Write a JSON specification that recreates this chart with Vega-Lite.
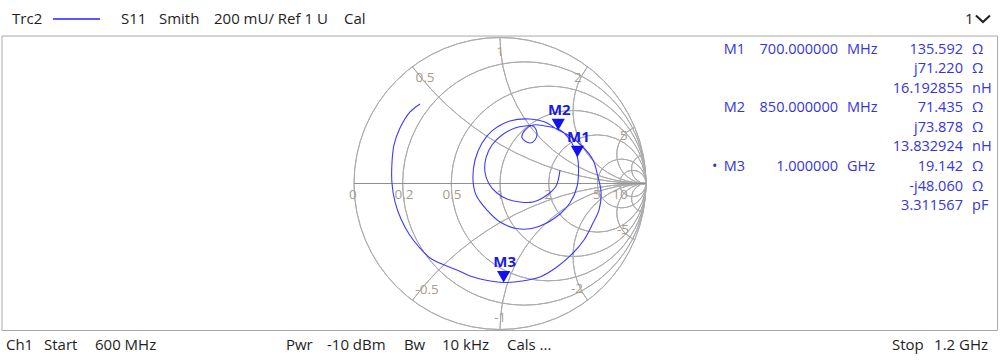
{
  "$schema": "https://vega.github.io/schema/vega-lite/v6.json",
  "width": 1000,
  "height": 361,
  "autosize": {"type": "fit", "contains": "padding"},
  "padding": 0,
  "background": "white",
  "config": {"view": {"stroke": null}, "text": {"font": "Open Sans"}},
  "datasets": {
    "frame": [{"x1": -3.411, "x2": 3.408, "y1": 1.01, "y2": -1.007}],
    "grid": [
      {"kind": "r0", "cx": 0, "cy": 0, "rad": 1, "t0": 0, "t1": 6.2832},
      {"kind": "r0.2", "cx": 0.1667, "cy": 0, "rad": 0.8333, "t0": 0, "t1": 6.2832},
      {"kind": "r0.5", "cx": 0.3333, "cy": 0, "rad": 0.6667, "t0": 0, "t1": 6.2832},
      {"kind": "r1", "cx": 0.5, "cy": 0, "rad": 0.5, "t0": 0, "t1": 6.2832},
      {"kind": "r2", "cx": 0.6667, "cy": 0, "rad": 0.3333, "t0": 0, "t1": 6.2832},
      {"kind": "r5", "cx": 0.8333, "cy": 0, "rad": 0.1667, "t0": 0, "t1": 6.2832},
      {"kind": "r10", "cx": 0.9091, "cy": 0, "rad": 0.0909, "t0": 0, "t1": 6.2832},
      {"kind": "x0.5", "cx": 1, "cy": 2, "rad": 2, "t0": 3.1416, "t1": 4.0689},
      {"kind": "x1", "cx": 1, "cy": 1, "rad": 1, "t0": 3.1416, "t1": 4.7124},
      {"kind": "x2", "cx": 1, "cy": 0.5, "rad": 0.5, "t0": 3.1416, "t1": 5.3559},
      {"kind": "x5", "cx": 1, "cy": 0.2, "rad": 0.2, "t0": 3.1416, "t1": 5.8884},
      {"kind": "x10", "cx": 1, "cy": 0.1, "rad": 0.1, "t0": 3.1416, "t1": 6.0837},
      {"kind": "x-0.5", "cx": 1, "cy": -2, "rad": 2, "t0": 5.3559, "t1": 6.2832},
      {"kind": "x-1", "cx": 1, "cy": -1, "rad": 1, "t0": 4.7124, "t1": 6.2832},
      {"kind": "x-2", "cx": 1, "cy": -0.5, "rad": 0.5, "t0": 4.0689, "t1": 6.2832},
      {"kind": "x-5", "cx": 1, "cy": -0.2, "rad": 0.2, "t0": 3.5364, "t1": 6.2832},
      {"kind": "x-10", "cx": 1, "cy": -0.1, "rad": 0.1, "t0": 3.3411, "t1": 6.2832}
    ],
    "axisline": [{"x1": -1, "x2": 1, "y": 0}],
    "glabels": [
      {"t": "0.5", "gx": -0.514, "gy": 0.723},
      {"t": "1", "gx": 0, "gy": 0.901},
      {"t": "2", "gx": 0.534, "gy": 0.723},
      {"t": "5", "gx": 0.849, "gy": 0.325},
      {"t": "-0.5", "gx": -0.5, "gy": -0.729},
      {"t": "-1", "gx": 0, "gy": -0.921},
      {"t": "-2", "gx": 0.527, "gy": -0.723},
      {"t": "-5", "gx": 0.842, "gy": -0.318},
      {"t": "0", "gx": -1.007, "gy": -0.079},
      {"t": "0.2", "gx": -0.658, "gy": -0.079},
      {"t": "0.5", "gx": -0.329, "gy": -0.079},
      {"t": "1", "gx": 0, "gy": -0.079},
      {"t": "2", "gx": 0.329, "gy": -0.079},
      {"t": "5", "gx": 0.664, "gy": -0.079},
      {"t": "10", "gx": 0.822, "gy": -0.079}
    ],
    "trace": [
      {"i": 1, "gr": 0.411, "gi": 0.092},
      {"i": 2, "gr": 0.384, "gi": -0.017},
      {"i": 3, "gr": 0.322, "gi": -0.079},
      {"i": 4, "gr": 0.226, "gi": -0.127},
      {"i": 5, "gr": 0.137, "gi": -0.127},
      {"i": 6, "gr": 0.048, "gi": -0.106},
      {"i": 7, "gr": -0.021, "gi": -0.065},
      {"i": 8, "gr": -0.075, "gi": -0.003},
      {"i": 9, "gr": -0.103, "gi": 0.079},
      {"i": 10, "gr": -0.096, "gi": 0.175},
      {"i": 11, "gr": -0.055, "gi": 0.264},
      {"i": 12, "gr": 0.014, "gi": 0.332},
      {"i": 13, "gr": 0.103, "gi": 0.38},
      {"i": 14, "gr": 0.171, "gi": 0.394},
      {"i": 15, "gr": 0.226, "gi": 0.394},
      {"i": 16, "gr": 0.253, "gi": 0.346},
      {"i": 17, "gr": 0.24, "gi": 0.298},
      {"i": 18, "gr": 0.205, "gi": 0.277},
      {"i": 19, "gr": 0.151, "gi": 0.312},
      {"i": 20, "gr": 0.171, "gi": 0.366},
      {"i": 21, "gr": 0.226, "gi": 0.401},
      {"i": 22, "gr": 0.308, "gi": 0.394},
      {"i": 23, "gr": 0.411, "gi": 0.366},
      {"i": 24, "gr": 0.479, "gi": 0.298},
      {"i": 25, "gr": 0.53, "gi": 0.18},
      {"i": 26, "gr": 0.538, "gi": 0.092},
      {"i": 27, "gr": 0.527, "gi": -0.024},
      {"i": 28, "gr": 0.479, "gi": -0.134},
      {"i": 29, "gr": 0.411, "gi": -0.209},
      {"i": 30, "gr": 0.274, "gi": -0.291},
      {"i": 31, "gr": 0.137, "gi": -0.312},
      {"i": 32, "gr": 0.0, "gi": -0.264},
      {"i": 33, "gr": -0.089, "gi": -0.182},
      {"i": 34, "gr": -0.164, "gi": -0.079},
      {"i": 35, "gr": -0.185, "gi": 0.024},
      {"i": 36, "gr": -0.171, "gi": 0.161},
      {"i": 37, "gr": -0.123, "gi": 0.277},
      {"i": 38, "gr": -0.055, "gi": 0.36},
      {"i": 39, "gr": 0.068, "gi": 0.428},
      {"i": 40, "gr": 0.205, "gi": 0.442},
      {"i": 41, "gr": 0.308, "gi": 0.421},
      {"i": 42, "gr": 0.399, "gi": 0.366},
      {"i": 43, "gr": 0.479, "gi": 0.325},
      {"i": 44, "gr": 0.568, "gi": 0.25},
      {"i": 45, "gr": 0.637, "gi": 0.161},
      {"i": 46, "gr": 0.671, "gi": 0.045},
      {"i": 47, "gr": 0.692, "gi": -0.058},
      {"i": 48, "gr": 0.678, "gi": -0.182},
      {"i": 49, "gr": 0.637, "gi": -0.271},
      {"i": 50, "gr": 0.575, "gi": -0.387},
      {"i": 51, "gr": 0.5, "gi": -0.476},
      {"i": 52, "gr": 0.39, "gi": -0.572},
      {"i": 53, "gr": 0.274, "gi": -0.64},
      {"i": 54, "gr": 0.151, "gi": -0.668},
      {"i": 55, "gr": 0.025, "gi": -0.678},
      {"i": 56, "gr": -0.103, "gi": -0.661},
      {"i": 57, "gr": -0.205, "gi": -0.634},
      {"i": 58, "gr": -0.295, "gi": -0.592},
      {"i": 59, "gr": -0.39, "gi": -0.555},
      {"i": 60, "gr": -0.479, "gi": -0.51},
      {"i": 61, "gr": -0.555, "gi": -0.435},
      {"i": 62, "gr": -0.623, "gi": -0.346},
      {"i": 63, "gr": -0.678, "gi": -0.243},
      {"i": 64, "gr": -0.719, "gi": -0.127},
      {"i": 65, "gr": -0.74, "gi": 0.003},
      {"i": 66, "gr": -0.74, "gi": 0.14},
      {"i": 67, "gr": -0.726, "gi": 0.264},
      {"i": 68, "gr": -0.685, "gi": 0.38},
      {"i": 69, "gr": -0.616, "gi": 0.49},
      {"i": 70, "gr": -0.548, "gi": 0.545}
    ],
    "markers": [
      {"m": "M1", "gr": 0.5303, "gi": 0.1802},
      {"m": "M2", "gr": 0.399, "gi": 0.3657},
      {"m": "M3", "gr": 0.0249, "gi": -0.6778}
    ],
    "tableRight": [
      {"t": "M1", "gx": 1.678, "gy": 0.914},
      {"t": "700.000000", "gx": 2.315, "gy": 0.914},
      {"t": "135.592", "gx": 3.171, "gy": 0.914},
      {"t": "j71.220", "gx": 3.171, "gy": 0.781},
      {"t": "16.192855", "gx": 3.171, "gy": 0.647},
      {"t": "M2", "gx": 1.678, "gy": 0.514},
      {"t": "850.000000", "gx": 2.315, "gy": 0.514},
      {"t": "71.435", "gx": 3.171, "gy": 0.514},
      {"t": "j73.878", "gx": 3.171, "gy": 0.38},
      {"t": "13.832924", "gx": 3.171, "gy": 0.247},
      {"t": "M3", "gx": 1.678, "gy": 0.113},
      {"t": "1.000000", "gx": 2.315, "gy": 0.113},
      {"t": "19.142", "gx": 3.171, "gy": 0.113},
      {"t": "-j48.060", "gx": 3.171, "gy": -0.021},
      {"t": "3.311567", "gx": 3.171, "gy": -0.154}
    ],
    "tableLeft": [
      {"t": "MHz", "gx": 2.377, "gy": 0.914},
      {"t": "Ω", "gx": 3.233, "gy": 0.914},
      {"t": "Ω", "gx": 3.233, "gy": 0.781},
      {"t": "nH", "gx": 3.233, "gy": 0.647},
      {"t": "MHz", "gx": 2.377, "gy": 0.514},
      {"t": "Ω", "gx": 3.233, "gy": 0.514},
      {"t": "Ω", "gx": 3.233, "gy": 0.38},
      {"t": "nH", "gx": 3.233, "gy": 0.247},
      {"t": "•", "gx": 1.452, "gy": 0.113},
      {"t": "GHz", "gx": 2.377, "gy": 0.113},
      {"t": "Ω", "gx": 3.233, "gy": 0.113},
      {"t": "Ω", "gx": 3.233, "gy": -0.021},
      {"t": "pF", "gx": 3.233, "gy": -0.154}
    ],
    "chrome": [
      {"t": "Trc2", "gx": -3.342, "gy": 1.1267},
      {"t": "S11", "gx": -2.596, "gy": 1.1267},
      {"t": "Smith", "gx": -2.336, "gy": 1.1267},
      {"t": "200 mU/ Ref 1 U", "gx": -1.959, "gy": 1.1267},
      {"t": "Cal", "gx": -1.068, "gy": 1.1267},
      {"t": "1", "gx": 3.185, "gy": 1.1267},
      {"t": "Ch1", "gx": -3.384, "gy": -1.106},
      {"t": "Start", "gx": -3.123, "gy": -1.106},
      {"t": "600 MHz", "gx": -2.774, "gy": -1.106},
      {"t": "Pwr", "gx": -1.466, "gy": -1.106},
      {"t": "-10 dBm", "gx": -1.185, "gy": -1.106},
      {"t": "Bw", "gx": -0.658, "gy": -1.106},
      {"t": "10 kHz", "gx": -0.397, "gy": -1.106},
      {"t": "Cals ...", "gx": 0.048, "gy": -1.106},
      {"t": "Stop", "gx": 2.685, "gy": -1.106},
      {"t": "1.2 GHz", "gx": 2.973, "gy": -1.106}
    ],
    "legendline": [
      {"gx": -3.062, "gy": 1.1267},
      {"gx": -2.74, "gy": 1.1267}
    ],
    "chevron": [
      {"k": 1, "gx": 3.26, "gy": 1.151},
      {"k": 2, "gx": 3.308, "gy": 1.106},
      {"k": 3, "gx": 3.356, "gy": 1.151}
    ]
  },
  "layer": [
    {
      "data": {"name": "frame"},
      "mark": {"type": "rect", "filled": false, "color": "#a8a8a8", "strokeWidth": 1},
      "encoding": {
        "x": {"field": "x1", "type": "quantitative", "scale": {"domain": [-3.42466, 3.42466], "nice": false, "zero": false}, "axis": null},
        "x2": {"field": "x2"},
        "y": {"field": "y1", "type": "quantitative", "scale": {"domain": [-1.21575, 1.25685], "nice": false, "zero": false}, "axis": null},
        "y2": {"field": "y2"}
      }
    },
    {
      "data": {"name": "grid"},
      "mark": {"type": "arc", "filled": false, "color": "#acacac", "strokeWidth": 1},
      "encoding": {
        "x": {"field": "cx", "type": "quantitative", "scale": {"domain": [-3.42466, 3.42466], "nice": false, "zero": false}, "axis": null},
        "y": {"field": "cy", "type": "quantitative", "scale": {"domain": [-1.21575, 1.25685], "nice": false, "zero": false}, "axis": null},
        "theta": {"field": "t0", "type": "quantitative", "scale": null, "stack": null},
        "theta2": {"field": "t1"},
        "radius": {"field": "rad", "type": "quantitative", "scale": {"type": "linear", "domain": [0, 1], "range": [0, 146], "zero": true}},
        "radius2": {"field": "rad"}
      }
    },
    {
      "data": {"name": "axisline"},
      "mark": {"type": "rule", "color": "#8f8f8f", "strokeWidth": 1},
      "encoding": {
        "x": {"field": "x1", "type": "quantitative", "scale": {"domain": [-3.42466, 3.42466], "nice": false, "zero": false}, "axis": null},
        "x2": {"field": "x2"},
        "y": {"field": "y", "type": "quantitative", "scale": {"domain": [-1.21575, 1.25685], "nice": false, "zero": false}, "axis": null}
      }
    },
    {
      "data": {"name": "glabels"},
      "mark": {"type": "text", "color": "#a89c8c", "fontSize": 13.5, "align": "center", "baseline": "middle"},
      "encoding": {
        "x": {"field": "gx", "type": "quantitative", "scale": {"domain": [-3.42466, 3.42466], "nice": false, "zero": false}, "axis": null},
        "y": {"field": "gy", "type": "quantitative", "scale": {"domain": [-1.21575, 1.25685], "nice": false, "zero": false}, "axis": null},
        "text": {"field": "t"}
      }
    },
    {
      "data": {"name": "trace"},
      "mark": {"type": "line", "color": "#3b3bff", "strokeWidth": 1.1, "interpolate": "catmull-rom"},
      "encoding": {
        "x": {"field": "gr", "type": "quantitative", "scale": {"domain": [-3.42466, 3.42466], "nice": false, "zero": false}, "axis": null},
        "y": {"field": "gi", "type": "quantitative", "scale": {"domain": [-1.21575, 1.25685], "nice": false, "zero": false}, "axis": null},
        "order": {"field": "i", "type": "quantitative"}
      }
    },
    {
      "data": {"name": "markers"},
      "mark": {"type": "point", "shape": "triangle-down", "filled": true, "color": "#1212f0", "opacity": 1, "size": 175, "yOffset": -5.7},
      "encoding": {
        "x": {"field": "gr", "type": "quantitative", "scale": {"domain": [-3.42466, 3.42466], "nice": false, "zero": false}, "axis": null},
        "y": {"field": "gi", "type": "quantitative", "scale": {"domain": [-1.21575, 1.25685], "nice": false, "zero": false}, "axis": null}
      }
    },
    {
      "data": {"name": "markers"},
      "mark": {"type": "text", "color": "#1a1ae6", "fontSize": 15, "fontWeight": "bold", "align": "center", "baseline": "alphabetic", "dy": -15, "dx": 1},
      "encoding": {
        "x": {"field": "gr", "type": "quantitative", "scale": {"domain": [-3.42466, 3.42466], "nice": false, "zero": false}, "axis": null},
        "y": {"field": "gi", "type": "quantitative", "scale": {"domain": [-1.21575, 1.25685], "nice": false, "zero": false}, "axis": null},
        "text": {"field": "m"}
      }
    },
    {
      "data": {"name": "tableRight"},
      "mark": {"type": "text", "color": "#3535dc", "fontSize": 14.5, "align": "right", "baseline": "middle"},
      "encoding": {
        "x": {"field": "gx", "type": "quantitative", "scale": {"domain": [-3.42466, 3.42466], "nice": false, "zero": false}, "axis": null},
        "y": {"field": "gy", "type": "quantitative", "scale": {"domain": [-1.21575, 1.25685], "nice": false, "zero": false}, "axis": null},
        "text": {"field": "t"}
      }
    },
    {
      "data": {"name": "tableLeft"},
      "mark": {"type": "text", "color": "#3535dc", "fontSize": 14.5, "align": "left", "baseline": "middle"},
      "encoding": {
        "x": {"field": "gx", "type": "quantitative", "scale": {"domain": [-3.42466, 3.42466], "nice": false, "zero": false}, "axis": null},
        "y": {"field": "gy", "type": "quantitative", "scale": {"domain": [-1.21575, 1.25685], "nice": false, "zero": false}, "axis": null},
        "text": {"field": "t"}
      }
    },
    {
      "data": {"name": "chrome"},
      "mark": {"type": "text", "color": "#1e1e1e", "fontSize": 15, "align": "left", "baseline": "middle"},
      "encoding": {
        "x": {"field": "gx", "type": "quantitative", "scale": {"domain": [-3.42466, 3.42466], "nice": false, "zero": false}, "axis": null},
        "y": {"field": "gy", "type": "quantitative", "scale": {"domain": [-1.21575, 1.25685], "nice": false, "zero": false}, "axis": null},
        "text": {"field": "t"}
      }
    },
    {
      "data": {"name": "legendline"},
      "mark": {"type": "line", "color": "#2020ff", "strokeWidth": 1.5},
      "encoding": {
        "x": {"field": "gx", "type": "quantitative", "scale": {"domain": [-3.42466, 3.42466], "nice": false, "zero": false}, "axis": null},
        "y": {"field": "gy", "type": "quantitative", "scale": {"domain": [-1.21575, 1.25685], "nice": false, "zero": false}, "axis": null}
      }
    },
    {
      "data": {"name": "chevron"},
      "mark": {"type": "line", "color": "#222222", "strokeWidth": 2},
      "encoding": {
        "x": {"field": "gx", "type": "quantitative", "scale": {"domain": [-3.42466, 3.42466], "nice": false, "zero": false}, "axis": null},
        "y": {"field": "gy", "type": "quantitative", "scale": {"domain": [-1.21575, 1.25685], "nice": false, "zero": false}, "axis": null},
        "order": {"field": "k", "type": "quantitative"}
      }
    }
  ]
}
